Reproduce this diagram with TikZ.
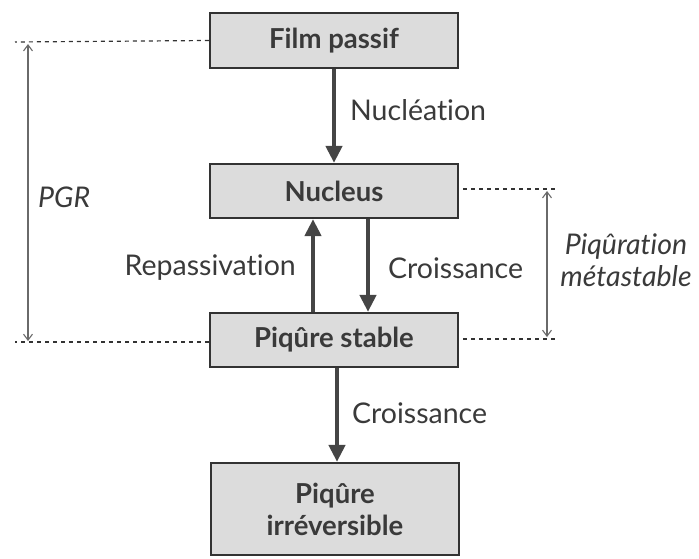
\documentclass[tikz,border=0pt]{standalone}
\usepackage{fontspec}
\setmainfont{Lato}[Ligatures=NoCommon]
\usetikzlibrary{arrows.meta}
\definecolor{boxfill}{HTML}{DCDCDC}
\definecolor{boxline}{HTML}{333333}
\definecolor{arrcol}{HTML}{454545}
\definecolor{thincol}{HTML}{6A6A6A}
\definecolor{txtcol}{HTML}{3A3A3A}
\tikzset{
  stagebox/.style={draw=boxline, line width=2.2pt, fill=boxfill, minimum width=248pt, inner sep=0pt, align=center, text=txtcol, font=\fontsize{27.5}{32}\selectfont\bfseries},
  bigarrow/.style={draw=arrcol, line width=4.5pt, -{Triangle[width=16pt,length=17pt]}},
  thinarrow/.style={draw=thincol, line width=1.1pt, {Straight Barb[length=6pt,width=9pt]}-{Straight Barb[length=6pt,width=9pt]}},
  guide/.style={draw=boxline, line width=1.2pt, dash pattern=on 4pt off 4pt},
  lbl/.style={text=txtcol, font=\fontsize{28.5}{32}\selectfont, inner sep=0pt},
  ilbl/.style={text=txtcol, font=\fontsize{28.5}{32}\selectfont\itshape, inner sep=0pt, align=center}
}
\begin{document}
\begin{tikzpicture}[x=1pt,y=-1pt]
\useasboundingbox (0,0) rectangle (699,558);
% boxes
\node[stagebox, minimum height=55pt] (film) at (334,40.5) {Film passif};
\node[stagebox, minimum height=54pt] (nucleus) at (334,191) {Nucleus};
\node[stagebox, minimum height=54pt] (stable) at (334,340) {Piqûre stable};
\node[stagebox, minimum height=92pt] (irrev) at (335,509) {Piqûre\\irréversible};
% main arrows
\draw[bigarrow] (film.south) -- (nucleus.north);
\draw[bigarrow] ([xshift=-21pt]stable.north) -- ([xshift=-21pt]nucleus.south);
\draw[bigarrow] ([xshift=34pt]nucleus.south) -- ([xshift=34pt]stable.north);
\draw[bigarrow] ([xshift=3pt]stable.south) -- ([xshift=2pt]irrev.north);
% labels
\node[lbl, anchor=west] (nuc) at (350,110) {Nucléation};
\node[lbl, anchor=east] (rep) at (296,268) {Repassivation};
\node[lbl, anchor=west] (cro1) at (388,268) {Croissance};
\node[lbl, anchor=west] (cro2) at (352,413) {Croissance};
% guide lines
\coordinate (gl1) at (15,42);
\coordinate (gl2) at (15,342);
\coordinate (gr1) at (555,189);
\coordinate (gr2) at (555,339);
\draw[guide] (film.west) -- (gl1);
\draw[guide] (stable.west) ++(0,2) -- (gl2);
\draw[guide] (nucleus.east) ++(4,-2) -- (gr1);
\draw[guide] (stable.east) ++(4,-1) -- (gr2);
% dimension arrows
\coordinate (la1) at (28,44);
\coordinate (la2) at (28,341);
\coordinate (ra1) at (547,191);
\coordinate (ra2) at (547,337);
\draw[thinarrow] (la1) -- (la2);
\draw[thinarrow] (ra1) -- (ra2);
\node[ilbl, anchor=west] (pgr) at (38,197) {PGR};
\node[ilbl] (pm) at (626,260) {Piqûration\\métastable};
\end{tikzpicture}
\end{document}
